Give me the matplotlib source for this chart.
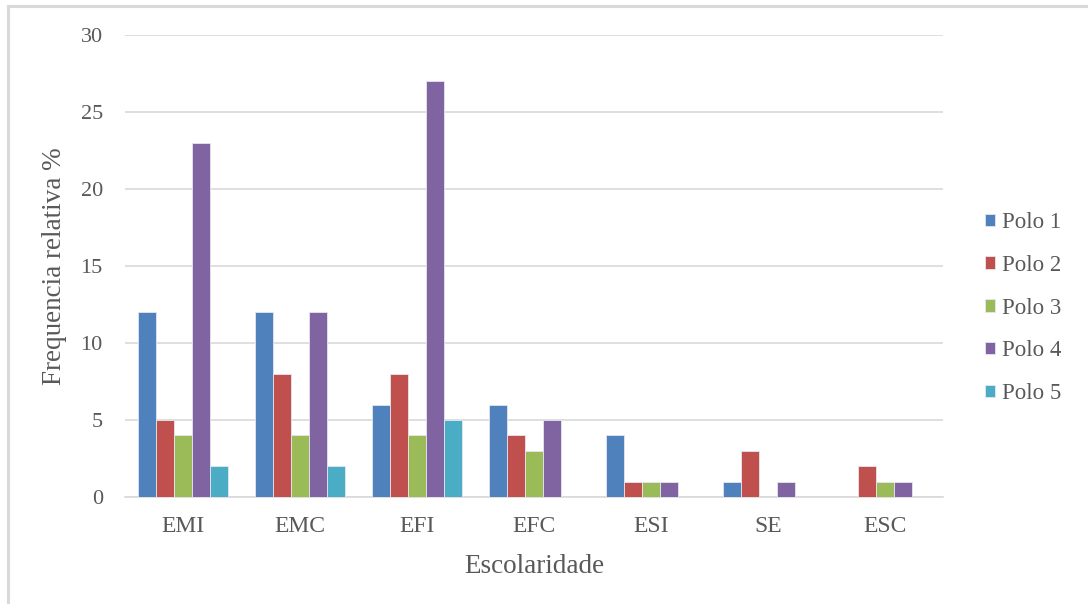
import numpy as np
import matplotlib.pyplot as plt
from matplotlib.lines import Line2D

# ===== Data =====
categorias = ["EMI", "EMC", "EFI", "EFC", "ESI", "SE", "ESC"]
polos = ["Polo 1", "Polo 2", "Polo 3", "Polo 4", "Polo 5"]
polo1 = [12, 12, 6, 6, 4, 1, 0]
polo2 = [5, 8, 8, 4, 1, 3, 2]
polo3 = [4, 4, 4, 3, 1, 0, 1]
polo4 = [23, 12, 27, 5, 1, 1, 1]
polo5 = [2, 2, 5, 0, 0, 0, 0]
series = [polo1, polo2, polo3, polo4, polo5]
cores = ["#4F81BD", "#C0504D", "#9BBB59", "#8064A2", "#4BACC6"]

plt.rcParams["font.family"] = ["Liberation Serif", "DejaVu Serif"]

fig = plt.figure(figsize=(10.88, 6.04), dpi=100)
ax = fig.add_axes([0.1149, 0.1772, 0.752, 0.7648])

x = np.arange(len(categorias))
n = len(series)
w = 1 / (n + 1.5)  # Excel-style gap width 150%
for i, (vals, cor, nome) in enumerate(zip(series, cores, polos)):
    offs = (i - (n - 1) / 2) * w
    ax.bar(x + offs, vals, width=w, color=cor, edgecolor="#E6E6F0",
           linewidth=0.6, label=nome, zorder=3)

ax.set_xlim(-0.5, len(categorias) - 0.5)
ax.set_ylim(0, 30)
ax.set_yticks(range(0, 31, 5))
ax.set_xticks(x)
ax.set_xticklabels(categorias)
ax.yaxis.grid(True, color="#D9D9D9", linewidth=1.2, zorder=0)
ax.tick_params(axis="both", length=0, colors="#595959")
ax.tick_params(axis="y", pad=16, labelsize=16)
ax.tick_params(axis="x", pad=14, labelsize=17)
for s in ["top", "right", "left"]:
    ax.spines[s].set_visible(False)
ax.spines["bottom"].set_color("#D9D9D9")
ax.spines["bottom"].set_linewidth(1.2)

ax.set_xlabel("Escolaridade", fontsize=19.5, color="#595959", labelpad=12)
ax.set_ylabel("Frequencia relativa %", fontsize=19.5, color="#595959", labelpad=10)

leg = ax.legend(loc="center left", bbox_to_anchor=(1.04, 0.409), frameon=False,
                fontsize=16.5, handlelength=0.45, handleheight=0.45,
                handletextpad=0.3, labelspacing=0.95, borderaxespad=0)
for t in leg.get_texts():
    t.set_color("#595959")

# chart frame lines
fig.add_artist(Line2D([8 / 1088, 8 / 1088], [0, 1 - 6 / 604], color="#D9D9D9", linewidth=2.2))
fig.add_artist(Line2D([8 / 1088, 1], [1 - 6 / 604, 1 - 6 / 604], color="#D9D9D9", linewidth=2.2))

fig.savefig("out.png", dpi=100)
